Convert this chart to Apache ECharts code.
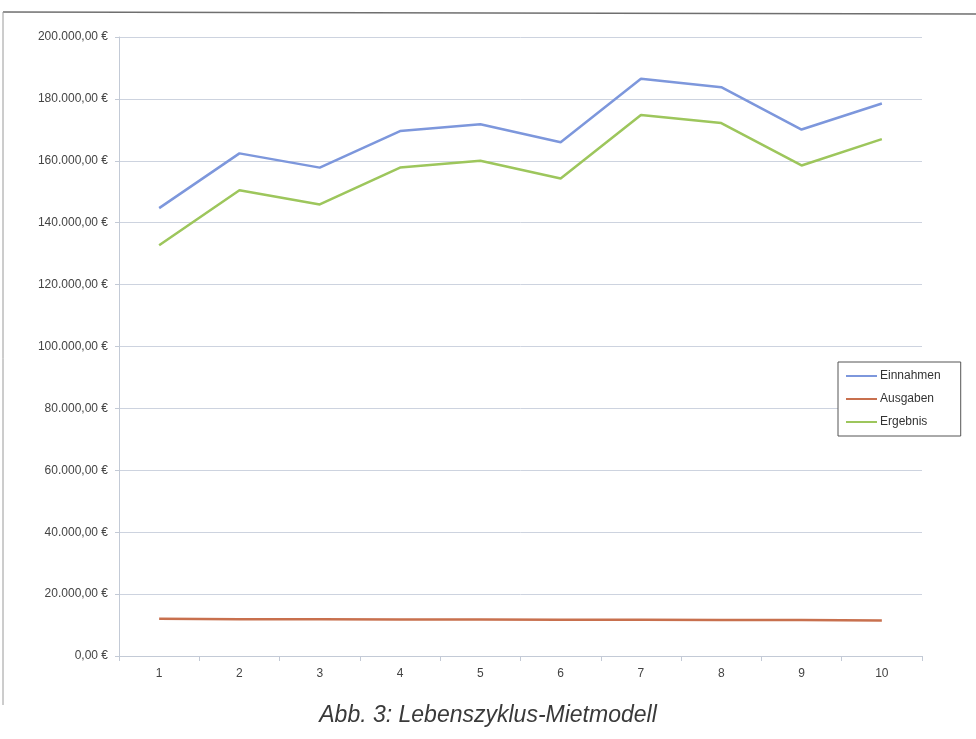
<!DOCTYPE html>
<html>
<head>
<meta charset="utf-8">
<title>Lebenszyklus-Mietmodell</title>
<script src="https://cdn.jsdelivr.net/npm/echarts@6/dist/echarts.min.js"></script>
<style>
  html, body { margin: 0; padding: 0; background: #ffffff; }
  #chart { width: 976px; height: 739px; }
</style>
</head>
<body>
<div id="chart"></div>
<script>
// Jahre des Lebenszyklus
const years = ['1', '2', '3', '4', '5', '6', '7', '8', '9', '10'];

// Werte je Jahr in Euro
const einnahmen = [144700, 162400, 157800, 169600, 171800, 166000, 186500, 183800, 170100, 178500];
const ausgaben  = [12000, 11900, 11900, 11800, 11800, 11700, 11700, 11600, 11600, 11500];
const ergebnis  = [132700, 150500, 145900, 157800, 160000, 154300, 174800, 172200, 158500, 167000];

const seriesNames = ['Einnahmen', 'Ausgaben', 'Ergebnis'];
const captionText = 'Abb. 3: Lebenszyklus-Mietmodell';

// Deutsches Währungsformat: 200.000,00 €
function euro(v) {
  const fixed = Number(v).toFixed(2).split('.');
  const intPart = fixed[0].replace(/\B(?=(\d{3})+(?!\d))/g, '.');
  return intPart + ',' + fixed[1] + ' €';
}

const colors = ['#7d97dc', '#c8704e', '#9dc65c'];
const font = 'Liberation Sans, Arial, sans-serif';

const chart = echarts.init(document.getElementById('chart'), null, { renderer: 'canvas' });

chart.setOption({
  backgroundColor: '#ffffff',
  animation: false,
  color: colors,
  grid: { left: 119, right: 54, top: 37, bottom: 83, containLabel: false },
  legend: {
    orient: 'vertical',
    left: 838,
    top: 362,
    padding: [8, 20, 8, 8],
    itemGap: 11,
    itemWidth: 31,
    itemHeight: 13,
    borderColor: '#555555',
    borderWidth: 1,
    borderRadius: 0,
    backgroundColor: '#ffffff',
    icon: 'path://M0,5.5 L31,5.5 L31,7.5 L0,7.5 Z',
    textStyle: { fontFamily: font, fontSize: 12, color: '#333333', padding: [0, 0, 0, -2] },
    data: seriesNames
  },
  xAxis: {
    type: 'category',
    data: years,
    boundaryGap: true,
    axisLine: { show: true, lineStyle: { color: '#c3cad6', width: 1 } },
    axisTick: { show: true, length: 5, inside: false, lineStyle: { color: '#c3cad6' } },
    axisLabel: { margin: 12, fontFamily: font, fontSize: 12, color: '#444444' },
    splitLine: { show: false }
  },
  yAxis: {
    type: 'value',
    min: 0,
    max: 200000,
    interval: 20000,
    axisLine: { show: true, lineStyle: { color: '#c3cad6', width: 1 } },
    axisTick: { show: true, length: 4, lineStyle: { color: '#c3cad6' } },
    axisLabel: { margin: 11, fontFamily: font, fontSize: 12, color: '#444444', formatter: euro },
    splitLine: { show: true, lineStyle: { color: '#cdd3df', width: 1 } }
  },
  series: [
    {
      name: seriesNames[0], type: 'line', data: einnahmen,
      symbol: 'none', lineStyle: { width: 2.5, color: colors[0] }, itemStyle: { color: colors[0] }
    },
    {
      name: seriesNames[1], type: 'line', data: ausgaben,
      symbol: 'none', lineStyle: { width: 2.5, color: colors[1] }, itemStyle: { color: colors[1] }
    },
    {
      name: seriesNames[2], type: 'line', data: ergebnis,
      symbol: 'none', lineStyle: { width: 2.5, color: colors[2] }, itemStyle: { color: colors[2] }
    }
  ],
  graphic: [
    // Rahmen des Diagrammbereichs (oben und links)
    { type: 'line', shape: { x1: 3, y1: 12, x2: 976, y2: 14 }, style: { stroke: '#6f6f6f', lineWidth: 1.5 } },
    { type: 'line', shape: { x1: 3, y1: 12, x2: 3, y2: 705 }, style: { stroke: '#9a9a9a', lineWidth: 1 } },
    // Bildunterschrift
    {
      type: 'text', left: 'center', top: 704,
      style: { text: captionText, font: 'italic 23px ' + font, fill: '#3a3a3a' }
    }
  ]
});
</script>
</body>
</html>
